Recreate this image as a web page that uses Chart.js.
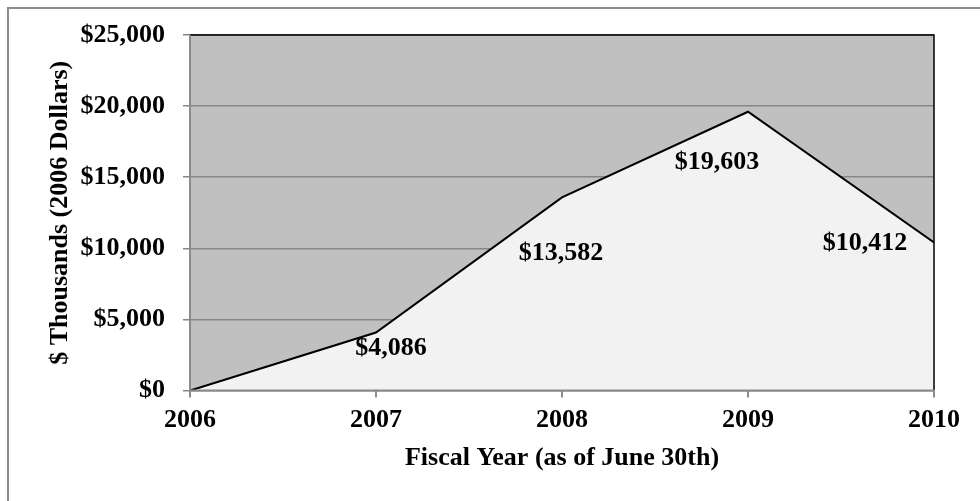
<!DOCTYPE html>
<html>
<head>
<meta charset="utf-8">
<title>Fiscal Year Spending</title>
<script src="https://cdn.jsdelivr.net/npm/chart.js@4/dist/chart.umd.min.js"></script>
<style>
    body { margin: 0; background: #fff; overflow: hidden; }
    #wrap { position: relative; width: 980px; height: 501px; overflow: hidden; }
    #frame { position: absolute; left: 7px; top: 7px; width: 1000px; height: 1000px; border: 2px solid #8c8c8c; box-sizing: border-box; }
    canvas { position: absolute; left: 0; top: 0; }
</style>
</head>
<body>
<div id="wrap">
    <div id="frame"></div>
    <canvas id="spendChart" width="980" height="501"></canvas>
</div>
<script>
// Fiscal years (as of June 30th) and spending in $ thousands (2006 dollars)
const years = [2006, 2007, 2008, 2009, 2010];
const spending = [0, 4086, 13582, 19603, 10412];
const yTicks = [0, 5000, 10000, 15000, 20000, 25000];

// where each value label sits relative to its point, in pixels
const labelOffsets = [null, [15, 16], [-1, 56], [-31, 51], [-69, 1]];

const serif = "'Liberation Serif', 'Times New Roman', serif";
const money = v => "$" + v.toLocaleString("en-US");

// grey plot background behind everything
const plotBackground = {
    id: "plotBackground",
    beforeDraw(chart) {
        const { ctx, chartArea: a } = chart;
        ctx.save();
        ctx.fillStyle = "#c0c0c0";
        ctx.fillRect(a.left, a.top, a.right - a.left, a.bottom - a.top);
        ctx.restore();
    }
};

// plot frame: grey axes on left/bottom, black edges on top/right
const plotFrame = {
    id: "plotFrame",
    afterDatasetsDraw(chart) {
        const { ctx, chartArea: a } = chart;
        ctx.save();
        ctx.lineWidth = 1.5;
        ctx.strokeStyle = "#000";
        ctx.beginPath();
        ctx.moveTo(a.left, a.top);
        ctx.lineTo(a.right, a.top);
        ctx.lineTo(a.right, a.bottom);
        ctx.stroke();
        ctx.lineWidth = 2;
        ctx.strokeStyle = "#8a8a8a";
        ctx.beginPath();
        ctx.moveTo(a.left, a.top);
        ctx.lineTo(a.left, a.bottom);
        ctx.lineTo(a.right, a.bottom);
        ctx.stroke();
        ctx.restore();
    }
};

// value labels next to each point
const valueLabels = {
    id: "valueLabels",
    afterDraw(chart) {
        const { ctx } = chart;
        const pts = chart.getDatasetMeta(0).data;
        ctx.save();
        ctx.font = "bold 26px " + serif;
        ctx.fillStyle = "#000";
        ctx.textAlign = "center";
        ctx.textBaseline = "middle";
        pts.forEach((p, i) => {
            const off = labelOffsets[i];
            if (!off) return;
            ctx.fillText(money(spending[i]), p.x + off[0], p.y + off[1]);
        });
        ctx.restore();
    }
};

const ctx = document.getElementById("spendChart").getContext("2d");
new Chart(ctx, {
    type: "line",
    data: {
        datasets: [{
            data: years.map((y, i) => ({ x: y, y: spending[i] })),
            borderColor: "#000",
            borderWidth: 2,
            backgroundColor: "#f2f2f2",
            fill: "origin",
            pointRadius: 0,
            tension: 0
        }]
    },
    options: {
        responsive: false,
        animation: false,
        layout: { padding: { left: 45, right: 46, top: 35, bottom: 20 } },
        plugins: {
            legend: { display: false },
            tooltip: { enabled: false }
        },
        scales: {
            x: {
                type: "linear",
                min: years[0],
                max: years[years.length - 1],
                afterBuildTicks: axis => { axis.ticks = years.map(v => ({ value: v })); },
                border: { display: false },
                grid: { drawOnChartArea: false, drawTicks: true, tickLength: 7, color: "#8a8a8a", lineWidth: 2 },
                ticks: {
                    padding: 7,
                    color: "#000",
                    maxRotation: 0,
                    font: { family: serif, size: 26, weight: "bold" },
                    callback: v => String(v)
                },
                title: {
                    display: true,
                    text: "Fiscal Year (as of June 30th)",
                    color: "#000",
                    padding: { top: 0, bottom: 7 },
                    font: { family: serif, size: 26, weight: "bold" }
                }
            },
            y: {
                min: 0,
                max: 25000,
                afterBuildTicks: axis => { axis.ticks = yTicks.map(v => ({ value: v })); },
                afterFit: axis => { axis.width = 145; },
                border: { display: false },
                grid: {
                    tickLength: 7,
                    lineWidth: 1.5,
                    color: "#868686"
                },
                ticks: {
                    padding: 18,
                    color: "#000",
                    font: { family: serif, size: 26, weight: "bold" },
                    callback: v => money(v)
                },
                title: {
                    display: true,
                    text: "$ Thousands (2006 Dollars)",
                    color: "#000",
                    padding: { top: 0, bottom: 0 },
                    font: { family: serif, size: 26, weight: "bold" }
                }
            }
        }
    },
    plugins: [plotBackground, plotFrame, valueLabels]
});
</script>
</body>
</html>
